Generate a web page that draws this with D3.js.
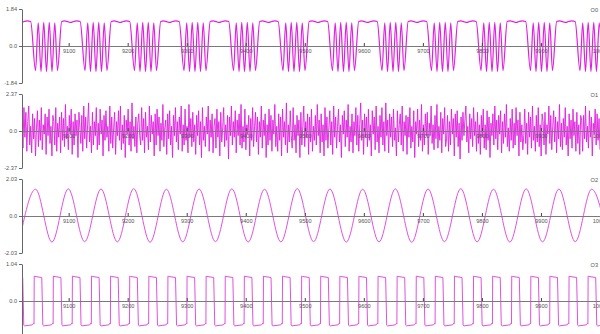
<!DOCTYPE html>
<html>
<head>
<meta charset="utf-8">
<script src="https://cdn.jsdelivr.net/npm/d3@7"></script>
<style>
  html, body { margin: 0; padding: 0; background: #fff; }
  svg { display: block; }
  text { font-family: "Liberation Sans", Arial, sans-serif; }
</style>
</head>
<body>
<svg id="chart" width="600" height="334"></svg>
<script>
// ---- channels ----
const channelNames = ["O0", "O1", "O2", "O3"];
const channelLimits = [1.84, 2.37, 2.03, 1.04];
const limitLabels = [["1.84", "-1.84"], ["2.37", "-2.37"], ["2.03", "-2.03"], ["1.04", "-1.04"]];
const channelColors = ["#e01ee0", "#e01ee0", "#e052e0", "#e052e0"];
const channelWidths = [1.2, 0.9, 1, 1];

// ---- time axis ----
const timeRange = [9021, 10000];
const timeTicks = [9100, 9200, 9300, 9400, 9500, 9600, 9700, 9800, 9900, 10000];

// ---- O0: plateau + burst cycles (start time of each plateau, shape of one cycle) ----
const o0CycleStarts = [9004.4, 9088.2, 9172.1, 9255.9, 9339.8, 9423.6, 9507.4, 9591.3, 9675.1, 9759.0, 9842.8, 9926.6];
const o0CycleShape = [
  [0, 1.22], [5.1, 1.25], [10.2, 1.21], [15.2, 1.17], [20.3, 1.22], [25.4, 1.25], [31.3, 1.22],
  [39.5, -1.22], [44.1, 1.15], [48.8, -1.27], [53.4, 1.18], [58.1, -1.27],
  [62.8, 1.18], [67.4, -1.27], [72.1, 1.15], [76.7, -1.22]
];

// ---- O1: sampled noise ----
const o1Start = 9021;
const o1Step = 1.6344;
const o1Values = [
  0.9,-1.1,1.5,-0.4,1.2,-1.3,0.6,1.6,-0.9,0.3,-1.4,1.1,-0.5,0.8,-1.6,0.2,1.3,-1.0,0.7,-0.6,
  1.5,-1.2,0.4,-0.2,1.1,-1.5,0.9,-0.3,1.4,-0.8,0.3,-1.6,1.0,0.6,-0.9,1.5,-1.3,0.5,-0.4,0.9,
  -1.4,1.2,-0.6,0.8,-1.0,1.7,-0.5,0.3,-1.2,1.0,-0.2,1.4,-1.5,0.6,-0.9,1.1,-0.3,0.7,-1.7,1.2,
  0.2,-0.8,1.0,-1.3,1.6,-0.5,0.9,-1.1,0.4,1.8,-0.7,0.3,-1.4,1.2,-0.9,0.6,-0.3,1.5,-1.2,0.5,
  -0.9,1.4,-0.2,0.7,-1.6,1.0,-0.6,1.3,-0.4,0.3,-1.3,1.6,-0.8,0.9,-1.1,0.2,1.2,-1.5,0.6,-0.3,
  1.3,-0.6,1.6,-1.2,0.4,-0.8,1.0,-1.7,0.7,-0.2,1.4,-0.9,0.6,-1.3,1.8,-0.5,0.3,-1.0,0.9,-1.4,
  0.5,1.1,-0.3,-0.9,1.5,-0.6,0.8,-1.4,1.2,-0.4,0.3,-1.2,1.6,-0.7,1.0,-0.2,0.6,-1.6,1.1,-0.9,
  1.4,-0.3,0.9,-1.3,0.5,-0.6,1.7,-1.0,0.2,0.7,-1.5,1.1,-0.5,1.3,-0.9,0.3,-1.7,1.0,-0.3,1.5,
  -0.7,0.6,-1.2,0.9,-0.2,1.6,-1.3,0.4,-0.9,1.4,-0.6,0.3,-1.4,1.7,-0.4,0.8,-1.0,1.2,-0.7,0.4,
  -1.5,1.0,-0.3,1.3,-0.9,0.6,-1.7,1.5,-0.6,0.3,-1.0,0.9,-0.2,1.6,-1.3,0.7,-0.4,1.1,-1.4,0.3,
  0.8,-1.1,1.4,-0.4,0.6,-1.6,1.2,-0.7,0.2,1.5,-1.0,0.4,-0.6,1.0,-1.8,0.9,-0.3,1.6,-0.9,0.6,
  -0.4,1.3,-1.4,0.7,-0.3,1.1,-0.9,1.7,-1.1,0.3,-0.7,1.4,-1.2,0.4,-0.2,1.0,-1.6,0.8,-0.6,1.5,
  -1.0,0.3,1.2,-0.7,0.9,-1.5,0.6,-0.4,1.6,-1.1,0.7,-0.3,1.1,-1.7,0.4,-0.9,1.4,-0.6,1.0,-1.3,
  0.7,-0.2,1.7,-1.0,0.3,-1.3,1.1,-0.6,0.9,-1.6,1.4,-0.4,0.6,-0.9,1.8,-1.4,0.4,-0.7,1.3,-0.3,
  -1.1,1.5,-0.6,0.4,-1.4,1.0,-0.3,0.7,-1.7,1.2,-0.9,0.3,1.6,-1.0,0.6,-0.4,1.1,-1.5,0.9,-0.7,
  1.4,-1.3,0.3,-0.6,1.0,-0.9,1.7,-0.3,0.7,-1.4,1.1,-0.7,0.4,-1.6,1.5,-0.6,0.9,-1.1,0.2,1.3,
  -0.9,0.6,-1.5,1.6,-0.4,0.9,-1.1,0.3,1.4,-0.7,0.4,-1.7,1.0,-0.2,1.3,-1.0,0.7,-0.4,1.7,-1.3,
  0.3,-0.7,1.1,-1.4,0.6,-0.3,1.5,-0.9,1.0,-1.3,0.4,1.8,-0.6,0.7,-1.5,1.1,-0.4,0.9,-1.0,1.4,
  -0.6,0.4,-1.6,1.3,-0.2,0.9,-1.2,1.6,-0.7,0.3,-1.4,1.0,-0.4,1.5,-0.9,0.6,-1.3,1.8,-0.3,0.7,
  -1.4,1.1,-0.4,0.9,-1.0,1.4,-0.6,0.2,-1.6,1.3,-0.7,0.4,1.1,-0.9,1.6,-1.3,0.6,-0.3,1.0,-1.5,
  0.9,-0.4,1.5,-1.1,0.3,-0.7,1.3,-1.7,0.6,-0.2,1.4,-1.0,0.7,-0.6,1.7,-1.3,0.4,-0.9,1.1,-0.3,
  1.2,-1.5,0.5,-0.3,1.6,-0.8,0.4,-1.2,1.0,-0.5,1.7,-1.1,0.3,-0.6,1.2,-1.4,0.8,-0.2,1.5,-1.0,
  -0.5,1.0,-1.3,0.6,-0.9,1.4,-0.2,0.8,-1.6,1.1,-0.4,1.3,-1.0,0.5,-1.8,0.9,-0.6,1.2,-0.3,0.7,
  1.6,-0.7,0.3,-1.4,1.1,-0.5,0.8,-1.0,1.5,-0.3,0.6,-1.3,1.2,-0.8,0.4,-1.5,1.0,-0.4,1.4,-1.1,
  0.4,-1.2,1.3,-0.6,0.9,-1.7,0.5,-0.3,1.1,-0.9,1.6,-0.5,0.7,-1.2,1.0,-0.2,1.3,-1.4,0.6,-0.8,
  1.1,-0.4,1.7,-1.0,0.2,-1.3,0.8,-0.6,1.4,-1.1,0.5,-0.9,1.5,-0.3,0.7,-1.6,1.2,-0.7,0.4,-1.2,
  -0.3,1.4,-0.8,0.5,-1.5,1.2,-0.4,0.9,-1.1,1.6,-0.6,0.3,-1.3,1.0,-0.7,1.5,-1.0,0.4,-1.6,1.1,
  0.6,-0.9,1.2,-1.5,0.4,-0.2,1.6,-0.8,1.0,-1.2,0.3,1.3,-0.7,0.9,-1.4,0.6,-0.5,1.7,-1.0,0.5,
  -1.2,0.8,-0.4,1.5,-0.9,0.3,-1.6,1.1,-0.5,0.7,-1.1,1.4,-0.3,0.6,-1.3,1.2,-0.8,0.4,-1.5,1.0,
  0.7,-1.3,1.0,-0.5,1.6,-0.7,0.3,-1.1,1.3,-0.4,0.9,-1.6,0.5,-0.2,1.4,-0.9,1.1,-0.6,0.8,-1.2
];

// ---- O2: sine extrema ----
const o2PeakTimes = [9044.0, 9099.4, 9154.8, 9210.2, 9265.6, 9321.0, 9376.4, 9431.8, 9487.2, 9542.6,
  9598.0, 9653.4, 9708.8, 9764.2, 9819.6, 9875.0, 9930.4, 9985.8];
const o2PeakValues = [1.47, 1.49, 1.48, 1.50, 1.47, 1.48, 1.49, 1.47, 1.50, 1.48,
  1.47, 1.49, 1.48, 1.50, 1.47, 1.49, 1.48, 1.47];
const o2TroughTimes = [9016.3, 9071.7, 9127.1, 9182.5, 9237.9, 9293.3, 9348.7, 9404.1, 9459.5, 9514.9,
  9570.3, 9625.7, 9681.1, 9736.5, 9791.9, 9847.3, 9902.7, 9958.1, 10013.5];
const o2TroughValues = [-1.42, -1.43, -1.41, -1.42, -1.44, -1.42, -1.41, -1.43, -1.42, -1.41,
  -1.43, -1.42, -1.44, -1.41, -1.42, -1.43, -1.42, -1.41, -1.42];

// ---- O3: square wave (rising-edge times, shape of one period) ----
const o3RiseTimes = [9009.0, 9041.3, 9073.7, 9106.0, 9138.4, 9170.7, 9203.1, 9235.5, 9267.8, 9300.2,
  9332.5, 9364.9, 9397.2, 9429.6, 9461.9, 9494.3, 9526.6, 9559.0, 9591.3, 9623.7,
  9656.0, 9688.4, 9720.7, 9753.1, 9785.4, 9817.8, 9850.1, 9882.5, 9914.8, 9947.2,
  9979.5, 10011.9];
const o3CycleShape = [
  [0, -0.64], [0.4, 0.70], [1.5, 0.69], [13.2, 0.66], [15.0, -0.68],
  [16.4, -0.70], [29.7, -0.67], [31.8, -0.62]
];

// ---- build point lists ----
const o0Points = o0CycleStarts.flatMap(s => o0CycleShape.map(([dt, v]) => ({ t: s + dt, v })));
const o1Points = o1Values.map((v, i) => ({ t: o1Start + i * o1Step, v }));
const o2Points = o2PeakTimes.map((t, i) => ({ t, v: o2PeakValues[i] }))
  .concat(o2TroughTimes.map((t, i) => ({ t, v: o2TroughValues[i] })))
  .sort((a, b) => a.t - b.t);
const o3Points = o3RiseTimes.flatMap(s => o3CycleShape.map(([dt, v]) => ({ t: s + dt, v })));

const seriesPoints = [o0Points, o1Points, o2Points, o3Points];
const seriesCurves = [d3.curveMonotoneX, d3.curveLinear, d3.curveMonotoneX, d3.curveLinear];

// ---- layout ----
const width = 600;
const plotLeft = 22;
const firstZero = 46;
const panelStep = 85;
const halfHeight = 37;

const svg = d3.select("#chart");
const x = d3.scaleLinear().domain(timeRange).range([plotLeft, width]);

channelNames.forEach((name, i) => {
  const zero = firstZero + i * panelStep;
  const lim = channelLimits[i];
  const y = d3.scaleLinear().domain([-lim, lim]).range([zero + halfHeight, zero - halfHeight]);

  const clipId = "clip-" + i;
  svg.append("clipPath").attr("id", clipId)
    .append("rect")
    .attr("x", plotLeft).attr("y", zero - halfHeight - 4)
    .attr("width", width - plotLeft).attr("height", 2 * halfHeight + 8);

  const line = d3.line()
    .x(d => x(d.t))
    .y(d => y(d.v))
    .curve(seriesCurves[i]);

  svg.append("path")
    .datum(seriesPoints[i])
    .attr("clip-path", `url(#${clipId})`)
    .attr("fill", "none")
    .attr("stroke", channelColors[i])
    .attr("stroke-width", channelWidths[i])
    .attr("stroke-linejoin", "round")
    .attr("d", line);

  // time axis along the zero line
  const xAxis = d3.axisBottom(x)
    .tickValues(timeTicks)
    .tickFormat(d3.format("d"))
    .tickSizeInner(-3)
    .tickSizeOuter(0)
    .tickPadding(3);
  const gx = svg.append("g").attr("transform", `translate(0,${zero})`).call(xAxis);
  gx.select(".domain").attr("stroke", "#7a7a7a");
  gx.selectAll(".tick line").attr("stroke", "#444");
  gx.selectAll(".tick text").attr("fill", "#555").attr("font-size", 5.6)
    .attr("font-family", "'Liberation Sans', Arial, sans-serif");

  // value axis
  const yAxis = d3.axisLeft(y)
    .tickValues([-lim, 0, lim])
    .tickFormat((d, k) => k === 0 ? limitLabels[i][1] : (k === 1 ? "0.0" : limitLabels[i][0]))
    .tickSizeInner(3)
    .tickSizeOuter(0)
    .tickPadding(2);
  const gy = svg.append("g").attr("transform", `translate(${plotLeft},0)`).call(yAxis);
  gy.select(".domain").attr("stroke", "#666");
  gy.selectAll(".tick line").attr("stroke", "#666");
  gy.selectAll(".tick text").attr("fill", "#555").attr("font-size", 5.6)
    .attr("font-family", "'Liberation Sans', Arial, sans-serif");

  // channel name
  svg.append("text")
    .attr("x", 598).attr("y", zero - 34)
    .attr("text-anchor", "end")
    .attr("font-size", 5.6)
    .attr("fill", "#555")
    .text(name);
});
</script>
</body>
</html>
